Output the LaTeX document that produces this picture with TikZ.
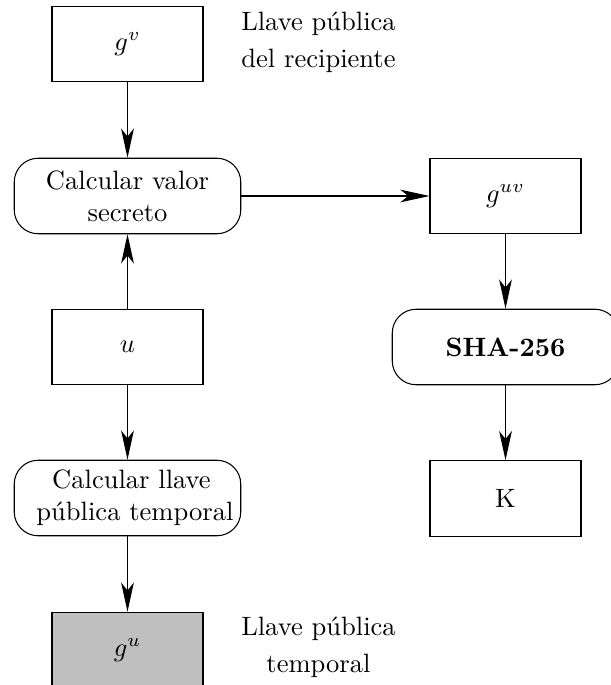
\documentclass[tikz,border=0pt]{standalone}
\usetikzlibrary{arrows.meta}
\begin{document}
\begin{tikzpicture}[x=0.013245cm,y=-0.013245cm,
  databox/.style={draw,minimum width=2cm,minimum height=1cm,inner sep=2pt},
  procbox/.style={draw,rounded corners=9pt,minimum width=3cm,minimum height=1cm,
    align=center,inner sep=2pt},
  note/.style={align=center,inner sep=0pt},
  flow/.style={-{Stealth[length=11pt,width=4.8pt,inset=3pt]}}]
\useasboundingbox (0,0) rectangle (610,685);

% left column
\node[databox] (gv) at (127.5,44) {$g^v$};
\node[procbox] (calc1) at (127.5,196) {Calcular valor\\secreto};
\node[databox] (u) at (127.5,347) {$u$};
\node[procbox] (calc2) at (127.5,498)
  {\hspace*{3pt}Calcular llave\\\hspace*{5.6pt}p\'ublica temporal};
\node[databox,fill=lightgray] (gu) at (127.5,650) {$g^u$};

% right column
\node[databox] (guv) at (505.5,196) {$g^{uv}$};
\node[procbox] (sha) at (505.5,347) {\textbf{SHA-256}};
\node[databox] (K) at (505.5,498.5) {K};

% side notes
\node[note] (n1) at (318.5,42) {Llave p\'ublica\\[2pt]del recipiente};
\node[note] (n2) at (318.5,647) {Llave p\'ublica\\[2pt]temporal};

% connectors
\draw[flow] (gv) -- (calc1);
\draw[flow] (u) -- (calc1);
\draw[flow] (u) -- (calc2);
\draw[flow] (calc2) -- (gu);
\draw[flow] (calc1) -- (guv);
\draw[flow] (guv) -- (sha);
\draw[flow] (sha) -- (K);
\end{tikzpicture}
\end{document}
